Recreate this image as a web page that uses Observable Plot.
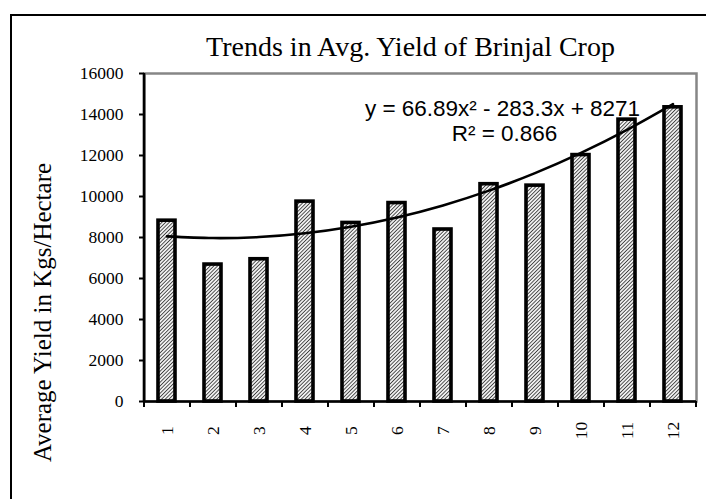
<!DOCTYPE html>
<html>
<head>
<meta charset="utf-8">
<script src="https://cdn.jsdelivr.net/npm/d3@7"></script>
<script src="https://cdn.jsdelivr.net/npm/@observablehq/plot@0.6"></script>
<style>
  html, body { margin: 0; padding: 0; background: #fff; }
  body { width: 706px; height: 499px; overflow: hidden; position: relative; }
  #border { position: absolute; left: 10px; top: 14px; width: 900px; height: 700px; border: 2px solid #000; box-sizing: border-box; }
  #chart { position: absolute; left: 0; top: 0; }
</style>
</head>
<body>
<div id="border"></div>
<div id="chart"></div>
<script>
// ---- data ----
const categories = ["1","2","3","4","5","6","7","8","9","10","11","12"];
const yields = [8820, 6680, 6940, 9750, 8710, 9680, 8390, 10600, 10530, 12020, 13750, 14350];
const yTicks = [0, 2000, 4000, 6000, 8000, 10000, 12000, 14000, 16000];
const trendCoefficients = [66.89, -283.3, 8271]; // y = a x^2 + b x + c (as printed on the chart)
const titleText = "Trends in Avg. Yield of Brinjal Crop";
const yLabelText = "Average Yield in Kgs/Hectare";
const equationText = "y = 66.89x\u00B2 - 283.3x + 8271";
const r2Text = "R\u00B2 = 0.866";

const bars = categories.map((c, i) => ({cat: c, value: yields[i]}));
const [qa, qb, qc] = trendCoefficients;
const trend = categories.map((c, i) => {
  const n = i + 1;
  return {cat: c, value: qa * n * n + qb * n + qc};
});

const serif = "'Liberation Serif', 'Times New Roman', serif";
const sans = "'Liberation Sans', Arial, sans-serif";
const step = 46; // band step in px (552 / 12)

const chart = Plot.plot({
  width: 706,
  height: 499,
  marginLeft: 144,
  marginRight: 10,
  marginTop: 73,
  marginBottom: 98,
  style: {background: "transparent", color: "#000", overflow: "visible"},
  x: {type: "band", domain: categories, paddingInner: 0.62, paddingOuter: 0.31, axis: null},
  y: {domain: [0, 16000], axis: null},
  marks: [
    Plot.frame({stroke: "#868686", strokeWidth: 2.5}),
    Plot.barY(bars, {x: "cat", y: "value", fill: "url(#hatch)", stroke: "#000", strokeWidth: 3.6}),
    Plot.line(trend, {x: "cat", y: "value", curve: "natural", stroke: "#000", strokeWidth: 2.6}),
    // axis lines
    Plot.ruleY([0], {stroke: "#000", strokeWidth: 2.6}),
    Plot.ruleX([categories[0]], {dx: -step / 2, y1: 0, y2: 16000, stroke: "#000", strokeWidth: 2.6}),
    // x tick marks at category boundaries
    Plot.ruleX(categories, {x: d => d, dx: -step / 2, y1: 0, y2: 0, insetBottom: -6, stroke: "#000", strokeWidth: 2}),
    Plot.ruleX([categories[categories.length - 1]], {dx: step / 2, y1: 0, y2: 0, insetBottom: -6, stroke: "#000", strokeWidth: 2}),
    // y axis
    Plot.axisY({ticks: yTicks, tickSize: 5, tickPadding: 16, tickFormat: d => String(d), label: null,
                fontSize: 17.5, fontFamily: serif, strokeWidth: 2}),
    // x labels rotated
    Plot.text(categories, {x: d => d, frameAnchor: "bottom", dy: 29, rotate: -90,
                textAnchor: "middle", lineAnchor: "middle", fontSize: 17.5, fontFamily: serif, fill: "#000"}),
    // title
    Plot.text([titleText], {frameAnchor: "top", dx: -10, dy: -18, lineAnchor: "bottom",
                fontSize: 28, fontFamily: serif, fill: "#000"}),
    // y label
    Plot.text([yLabelText], {frameAnchor: "left", dx: -94, dy: 75, rotate: -90, lineAnchor: "bottom",
                textAnchor: "middle", fontSize: 25, fontFamily: serif, fill: "#000"}),
    // equation
    Plot.text([equationText], {frameAnchor: "top", dx: 82, dy: 42, lineAnchor: "bottom",
                textAnchor: "middle", fontSize: 22.5, fontFamily: sans, fill: "#000"}),
    Plot.text([r2Text], {frameAnchor: "top", dx: 84, dy: 67, lineAnchor: "bottom",
                textAnchor: "middle", fontSize: 22.5, fontFamily: sans, fill: "#000"})
  ]
});

// hatch pattern for the bars
const svgSel = d3.select(chart);
const defs = svgSel.insert("defs", ":first-child");
const pat = defs.append("pattern")
  .attr("id", "hatch")
  .attr("width", 2.6).attr("height", 2.6)
  .attr("patternUnits", "userSpaceOnUse")
  .attr("patternTransform", "rotate(45)");
pat.append("rect").attr("width", 2.6).attr("height", 2.6).attr("fill", "#ffffff");
pat.append("line").attr("x1", 1.3).attr("y1", -1).attr("x2", 1.3).attr("y2", 4)
  .attr("stroke", "#404040").attr("stroke-width", 1.0);

document.getElementById("chart").appendChild(chart);
</script>
</body>
</html>
